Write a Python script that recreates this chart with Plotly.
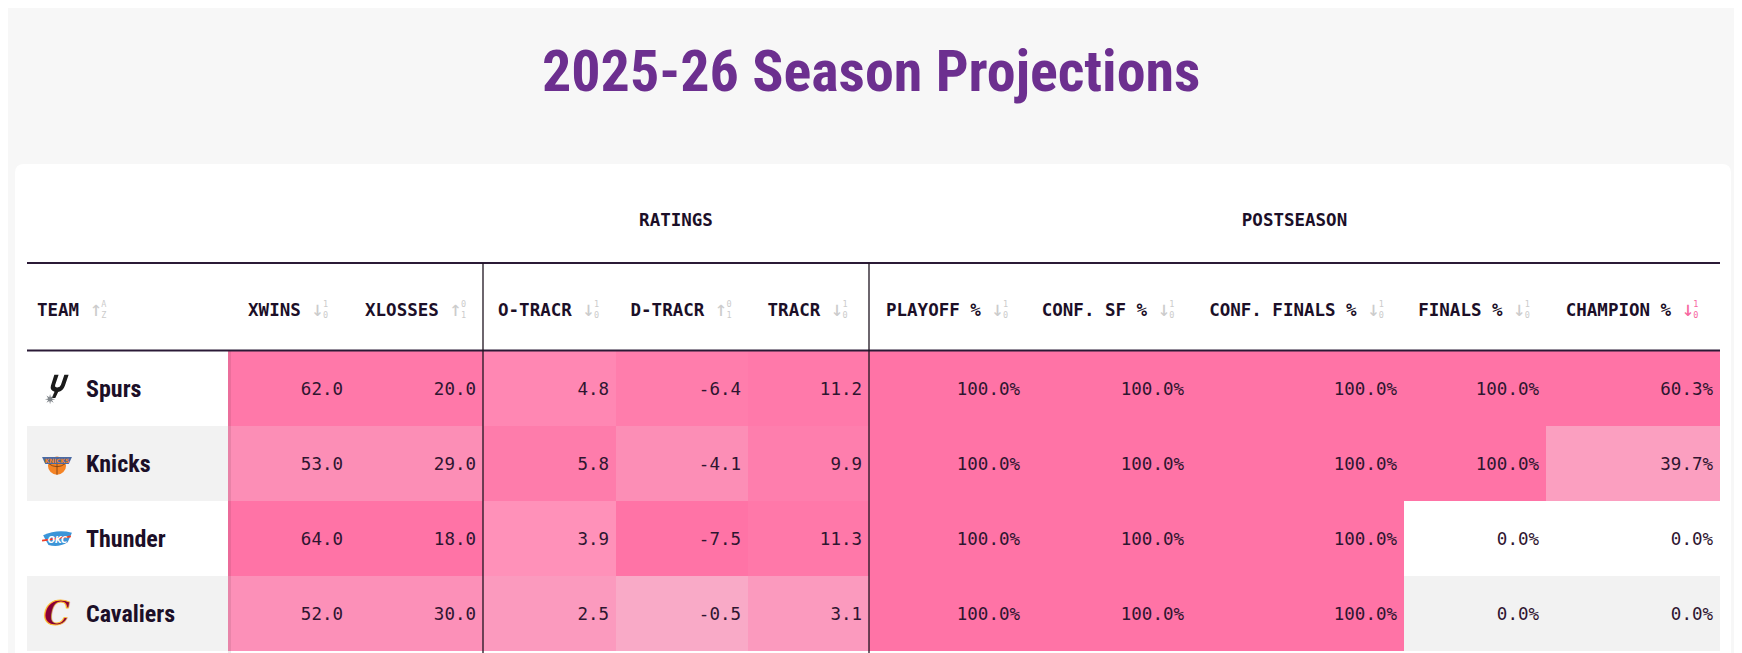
import base64
import math
import plotly.graph_objects as go

# Tabellenwerte
teams = ["Spurs", "Knicks", "Thunder", "Cavaliers"]
xwins = [62.0, 53.0, 64.0, 52.0]
xlosses = [20.0, 29.0, 18.0, 30.0]
o_tracr = [4.8, 5.8, 3.9, 2.5]
d_tracr = [-6.4, -4.1, -7.5, -0.5]
tracr = [11.2, 9.9, 11.3, 3.1]
playoff_pct = [100.0, 100.0, 100.0, 100.0]
conf_sf_pct = [100.0, 100.0, 100.0, 100.0]
conf_finals_pct = [100.0, 100.0, 100.0, 100.0]
finals_pct = [100.0, 100.0, 0.0, 0.0]
champion_pct = [60.3, 39.7, 0.0, 0.0]

col_labels = ["XWINS", "XLOSSES", "O-TRACR", "D-TRACR", "TRACR",
              "PLAYOFF %", "CONF. SF %", "CONF. FINALS %", "FINALS %", "CHAMPION %"]
col_values = [xwins, xlosses, o_tracr, d_tracr, tracr,
              playoff_pct, conf_sf_pct, conf_finals_pct, finals_pct, champion_pct]
col_is_pct = [False] * 5 + [True] * 5
# Sortier-Symbole: Pfeil, obere Ziffer, untere Ziffer
col_sort = [("↓", "1", "0"), ("↑", "0", "1"), ("↓", "1", "0"), ("↑", "0", "1"), ("↓", "1", "0"),
            ("↓", "1", "0"), ("↓", "1", "0"), ("↓", "1", "0"), ("↓", "1", "0"), ("↓", "1", "0")]
active_sort = "CHAMPION %"
groups = [("RATINGS", 2, 5), ("POSTSEASON", 5, 10)]

# Farbskala je Spalte (Wert fuer leer, Wert fuer volle Farbe); None = Spaltenmaximum
color_lo = [12, 70, -7.0, 8.4, -17.8, 0, 0, 0, 0, 0]
color_hi = [64, 18, 6.8, -7.5, 12.5, None, None, None, None, None]

# Layout (Pixel im Browserfenster; die Seite hat 8px Rand)
W, H = 1742, 653
off = 8
table_x0 = 27
team_w = 201
col_widths = [122, 133, 133, 132, 121, 158, 164, 213, 142, 174]
y_group = 222
y_line_top = 263
y_line_head = 350.5
y_head = 312
body_top = 351
row_h = 75
pad = 7

ink = "#1c0f28"
num_ink = "#2e1530"
pink = (255, 115, 166)
mono = "DejaVu Sans Mono, Liberation Mono, monospace"
narrow = "Liberation Sans Narrow, Roboto Condensed, DejaVu Sans Condensed, sans-serif"
fs_head = 17.5
cw = 0.602 * fs_head

edges = [table_x0 + team_w]
for w in col_widths:
    edges.append(edges[-1] + w)
table_x1 = edges[-1]
row_edges = [body_top + row_h * i for i in range(len(teams) + 1)]
row_mid = [body_top + row_h * (i + 0.5) for i in range(len(teams))]
text_mid = [y + 2 for y in row_mid]

# Intensitaet je Zelle
z = []
for r in range(len(teams)):
    row = []
    for c, vals in enumerate(col_values):
        lo = color_lo[c]
        hi = color_hi[c] if color_hi[c] is not None else max(vals)
        t = (vals[r] - lo) / (hi - lo)
        row.append(min(max(t, 0), 1))
    z.append(row)

fig = go.Figure()

fig.add_trace(go.Heatmap(
    x=edges, y=row_edges, z=z, zmin=0, zmax=1,
    colorscale=[[0, "rgba(%d,%d,%d,0)" % pink], [1, "rgba(%d,%d,%d,1)" % pink]],
    showscale=False, hoverinfo="skip", zsmooth=False,
))

# Zahlen
for c, vals in enumerate(col_values):
    fmt = "{:.1f}%" if col_is_pct[c] else "{:.1f}"
    fig.add_trace(go.Scatter(
        x=[edges[c + 1] - pad] * len(vals), y=text_mid,
        mode="text", text=[fmt.format(v) for v in vals],
        textposition="middle left",
        textfont=dict(family=mono, size=17.5, color=num_ink),
        hoverinfo="skip", showlegend=False,
    ))

# Teamnamen
fig.add_trace(go.Scatter(
    x=[table_x0 + 59] * len(teams), y=text_mid, mode="text", text=teams,
    textposition="middle right",
    textfont=dict(family=narrow, size=24, color=ink, weight="bold"),
    hoverinfo="skip", showlegend=False,
))


# Spaltenkoepfe
def header(x_left, label, sort, color):
    arrow, top, bottom = sort
    n = len(label)
    fig.add_trace(go.Scatter(
        x=[x_left], y=[y_head], mode="text",
        text=["%s <span style='color:%s;font-weight:normal;font-size:21px'>%s</span>" % (label, color, arrow)],
        textposition="middle right",
        textfont=dict(family=mono, size=fs_head, color=ink, weight="bold"),
        hoverinfo="skip", showlegend=False,
    ))
    xd = x_left + n * cw + cw + 0.602 * 21 - 1
    fig.add_trace(go.Scatter(
        x=[xd], y=[y_head - 2], mode="text", text=["%s<br>%s" % (top, bottom)],
        textposition="middle right",
        textfont=dict(family=mono, size=8.5, color=color),
        hoverinfo="skip", showlegend=False,
    ))


header(table_x0 + 10, "TEAM", ("↑", "A", "Z"), "#cccccc")
for c, label in enumerate(col_labels):
    total = (len(label) + 1) * cw + 0.602 * 21 + 6
    mid = (edges[c] + edges[c + 1]) / 2
    color = "#f7679f" if label == active_sort else "#cccccc"
    header(mid - total / 2, label, col_sort[c], color)

# Gruppenkoepfe
for name, c0, c1 in groups:
    fig.add_trace(go.Scatter(
        x=[(edges[c0] + edges[c1]) / 2], y=[y_group], mode="text", text=[name],
        textposition="middle center",
        textfont=dict(family=mono, size=fs_head, color=ink, weight="bold"),
        hoverinfo="skip", showlegend=False,
    ))

# Karte, Zeilenstreifen, Linien
r = 9
cx0, cy0, cx1, cy1 = 15, 164, 1731, 720
card = (f"M {cx0 + r} {cy0} L {cx1 - r} {cy0} Q {cx1} {cy0} {cx1} {cy0 + r} "
        f"L {cx1} {cy1} L {cx0} {cy1} L {cx0} {cy0 + r} Q {cx0} {cy0} {cx0 + r} {cy0} Z")
shapes = [dict(type="rect", x0=0, x1=W + off, y0=0, y1=H + off, fillcolor="#f7f7f7",
               line_width=0, layer="below"),
          dict(type="path", path=card, fillcolor="white", line_width=0, layer="below")]
for i in range(len(teams)):
    if i % 2 == 1:
        shapes.append(dict(type="rect", x0=table_x0, x1=table_x1, y0=row_edges[i], y1=row_edges[i + 1],
                           fillcolor="#f2f2f2", line_width=0, layer="below"))
shapes.append(dict(type="line", x0=edges[0] + 1.5, x1=edges[0] + 1.5, y0=body_top, y1=H,
                   line=dict(color="rgba(0,0,0,0.08)", width=3)))
for y in (y_line_top, y_line_head):
    shapes.append(dict(type="line", x0=table_x0, x1=table_x1, y0=y, y1=y,
                       line=dict(color="#2b1a36", width=2)))
for _, c0, _ in groups:
    shapes.append(dict(type="line", x0=edges[c0], x1=edges[c0], y0=y_line_top, y1=H,
                       line=dict(color="#1e1420", width=1.3)))


# Logos (vereinfachte SVG)
def star(cx, cy, ro, ri, n=8):
    pts = []
    for k in range(2 * n):
        rr = ro if k % 2 == 0 else ri
        a = math.pi * k / n
        pts.append("%.2f,%.2f" % (cx + rr * math.sin(a), cy - rr * math.cos(a)))
    return " ".join(pts)


logos = {
    "Spurs": (
        '<g transform="translate(4,0) skewX(-14)">'
        '<path d="M9 2 L13 2 L12.2 11.5 Q12 14 14.8 14 Q17.5 14 17.6 11.5 L18.4 2 L22.4 2 '
        'L21.5 12.5 Q21 17.5 16.6 18.2 L15.4 24 L12 24 L13.2 18 Q8.4 17 8.4 12.5 Z" fill="#1b1b1b"/></g>'
        '<polygon points="%s" fill="#80868b"/>' % star(8.5, 25, 4.8, 1.9)
    ),
    "Knicks": (
        '<circle cx="15" cy="17" r="8.5" fill="#f58426"/>'
        '<path d="M7 15 Q15 21 23 15" stroke="#7a3f15" fill="none" stroke-width="0.8"/>'
        '<path d="M15 9 L15 25.5" stroke="#7a3f15" stroke-width="0.8"/>'
        '<path d="M1 9 L29 9 L26 15.5 L4 15.5 Z" fill="#4a6aa3"/>'
        '<text x="15" y="14.3" font-family="DejaVu Sans" font-weight="bold" font-size="5.5" '
        'fill="#f58426" text-anchor="middle">KNICKS</text>'
    ),
    "Thunder": (
        '<path d="M2 12 Q15 6 29 9.5 L25 18.5 Q16 24 7 21 Z" fill="#3b95d8"/>'
        '<path d="M1 17 L28 13" stroke="#ef3b24" stroke-width="1.8"/>'
        '<text x="15.5" y="19" font-family="DejaVu Sans" font-weight="bold" font-style="italic" '
        'font-size="8" fill="#ffffff" text-anchor="middle">OKC</text>'
    ),
    "Cavaliers": (
        '<text x="15" y="26" font-family="DejaVu Serif" font-weight="bold" font-style="italic" '
        'font-size="31" fill="#860038" stroke="#fdbb30" stroke-width="0.8" text-anchor="middle">C</text>'
    ),
}
images = []
for i, team in enumerate(teams):
    svg = ('<svg xmlns="http://www.w3.org/2000/svg" viewBox="0 0 30 30" width="30" height="30">'
           + logos[team] + '</svg>')
    src = "data:image/svg+xml;base64," + base64.b64encode(svg.encode()).decode()
    images.append(dict(source=src, xref="x", yref="y", x=table_x0 + 30, y=row_mid[i],
                       sizex=32, sizey=32, xanchor="center", yanchor="middle", layer="above"))

fig.update_layout(
    width=W, height=H,
    margin=dict(l=0, r=0, t=0, b=0),
    paper_bgcolor="#f7f7f7",
    plot_bgcolor="rgba(0,0,0,0)",
    showlegend=False,
    hovermode=False,
    shapes=shapes,
    images=images,
    annotations=[dict(
        text="2025-26 Season Projections", x=W / 2, y=71, xref="x", yref="y",
        showarrow=False, xanchor="center", yanchor="middle",
        font=dict(family=narrow, size=58, color="#6c2f8f", weight="bold"),
    )],
    # Achsen in Fensterpixeln, um den Seitenrand verschoben
    xaxis=dict(range=[off, W + off], visible=False, fixedrange=True),
    yaxis=dict(range=[H + off, off], visible=False, fixedrange=True),
)

fig.write_html("out.html")
